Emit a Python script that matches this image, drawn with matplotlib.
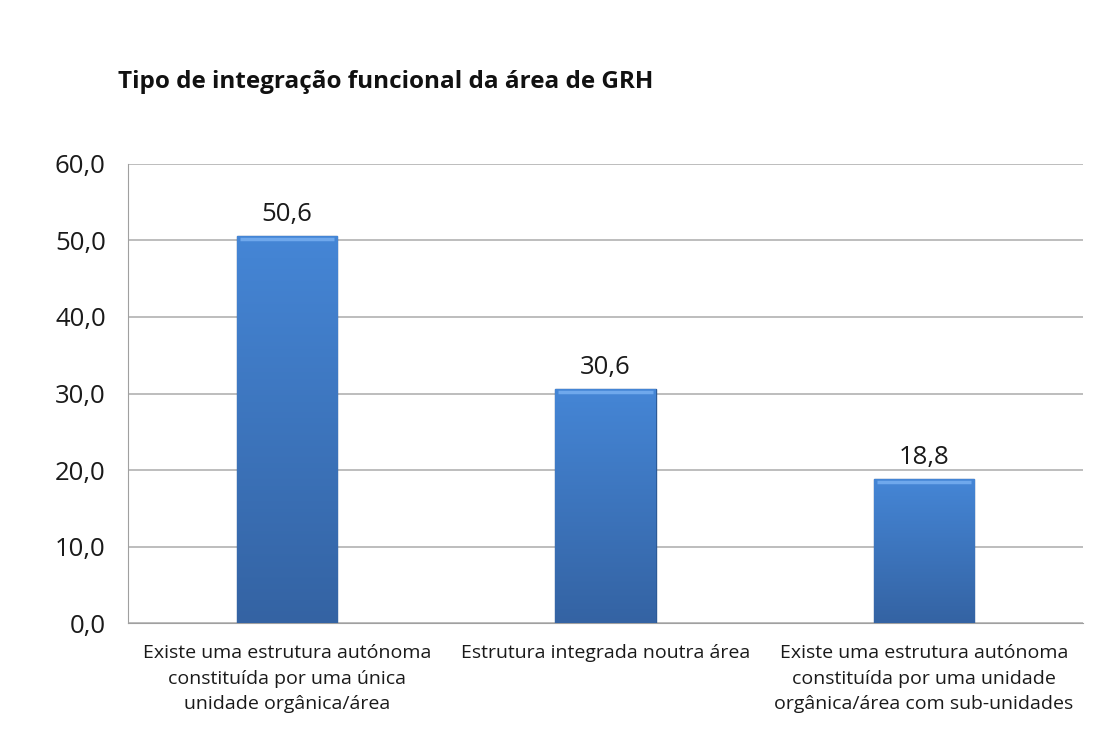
import numpy as np
import matplotlib.pyplot as plt
from matplotlib.colors import LinearSegmentedColormap

plt.rcParams["font.family"] = ["Open Sans", "DejaVu Sans"]

categories = [
    "Existe uma estrutura autónoma\nconstituída por uma única\nunidade orgânica/área",
    "Estrutura integrada noutra área",
    "Existe uma estrutura autónoma\nconstituída por uma unidade\norgânica/área com sub-unidades",
]
values = [50.6, 30.6, 18.8]
value_labels = ["50,6", "30,6", "18,8"]
yticks = [0, 10, 20, 30, 40, 50, 60]
ytick_labels = ["0,0", "10,0", "20,0", "30,0", "40,0", "50,0", "60,0"]

fig = plt.figure(figsize=(11.1, 7.33), dpi=100)
ax = fig.add_axes([0.1153, 0.150, 0.8604, 0.6263])

x = np.arange(len(categories))
bars = ax.bar(x, values, width=0.315, color="#3F78C4", edgecolor="#2C5A96",
              linewidth=1.0, zorder=3)

# vertical gradient inside each bar
cmap = LinearSegmentedColormap.from_list("blu", ["#3463A3", "#4586D6"])
grad = np.linspace(0, 1, 256).reshape(-1, 1)
for b in bars:
    x0, w, h = b.get_x(), b.get_width(), b.get_height()
    im = ax.imshow(grad, cmap=cmap, origin="lower", aspect="auto",
                   extent=[x0, x0 + w, 0, h], zorder=3.5)
    im.set_clip_path(b)
    ax.plot([x0 + w * 0.03, x0 + w * 0.97], [h - 0.35, h - 0.35],
            color="#6FA8EC", lw=2.5, zorder=4, solid_capstyle="butt")

for xi, v, lab in zip(x, values, value_labels):
    ax.text(xi, v + 1.2, lab, ha="center", va="bottom", fontsize=18.5,
            color="#1a1a1a")

ax.set_xlim(-0.5, len(categories) - 0.5)
ax.set_ylim(0, 60)
ax.set_yticks(yticks)
ax.set_yticklabels(ytick_labels, fontsize=18.5)
ax.set_xticks(x)
ax.set_xticklabels(categories, fontsize=14, linespacing=1.55,
                   multialignment="center")
ax.tick_params(axis="both", length=0, colors="#1a1a1a")
ax.tick_params(axis="y", pad=16)
ax.tick_params(axis="x", pad=15)

ax.grid(axis="y", color="#B8B8B8", linewidth=1.3, zorder=0)
for side in ["top", "right"]:
    ax.spines[side].set_visible(False)
ax.spines["left"].set_color("#A0A0A0")
ax.spines["bottom"].set_color("#A0A0A0")

fig.text(0.106, 0.888, "Tipo de integração funcional da área de GRH",
         fontsize=17.5, fontweight="bold", ha="left", va="center",
         color="#111111")

fig.savefig("out.png", dpi=100)
